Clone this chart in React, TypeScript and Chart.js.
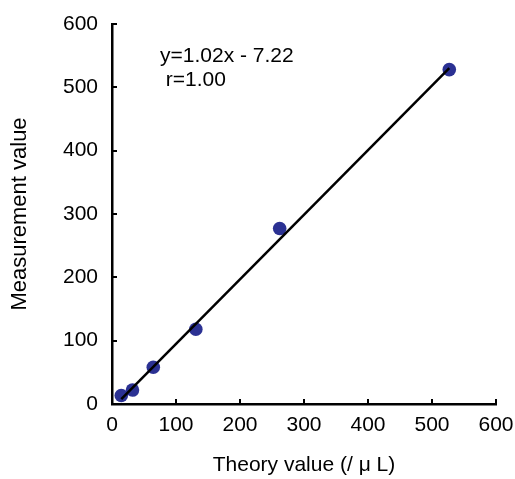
import React, { useEffect, useRef } from "react";
import { Chart, registerables } from "chart.js";

Chart.register(...registerables);

const theoryValues = [14.5, 32, 64.5, 131, 262, 527];
const measuredValues = [13.5, 22, 58, 118, 277, 528];
const fitSlope = 1.02;
const fitIntercept = -7.22;
const annotationLines = ["y=1.02x - 7.22", " r=1.00"];
const xTitle = "Theory value (/ μ L)";
const yTitle = "Measurement value";
const axisMin = 0;
const axisMax = 600;
const axisStep = 100;

const FONT = "'Liberation Sans', Arial, sans-serif";

export default function App() {
  const ref = useRef<HTMLCanvasElement | null>(null);
  useEffect(() => {
    if (!ref.current) return;
    const xMin = Math.min(...theoryValues);
    const xMax = Math.max(...theoryValues);
    const fitData = [
      { x: xMin, y: fitSlope * xMin + fitIntercept },
      { x: xMax, y: fitSlope * xMax + fitIntercept },
    ];
    const points = theoryValues.map((x, i) => ({ x, y: measuredValues[i] }));

    const innerTicks = {
      id: "innerTicks",
      afterDraw(chart: any) {
        const ctx = chart.ctx;
        const xs = chart.scales.x;
        const ys = chart.scales.y;
        const area = chart.chartArea;
        ctx.save();
        ctx.strokeStyle = "#000";
        ctx.lineWidth = 2;
        ctx.beginPath();
        for (let v = axisMin; v <= axisMax; v += axisStep) {
          if (v === axisMin) continue;
          const px = Math.round(xs.getPixelForValue(v));
          ctx.moveTo(px, area.bottom + 1);
          ctx.lineTo(px, area.bottom - 5);
          const py = Math.round(ys.getPixelForValue(v));
          ctx.moveTo(area.left - 1, py);
          ctx.lineTo(area.left + 5, py);
        }
        ctx.stroke();
        ctx.fillStyle = "#000";
        ctx.font = `21px ${FONT}`;
        ctx.textAlign = "left";
        ctx.textBaseline = "middle";
        const ax = xs.getPixelForValue(75);
        const ay1 = ys.getPixelForValue(549);
        const ay2 = ys.getPixelForValue(511);
        ctx.fillText(annotationLines[0], ax, ay1);
        ctx.fillText(annotationLines[1], ax, ay2);
        ctx.restore();
      },
    };

    const chart = new Chart(ref.current, {
      type: "scatter",
      data: {
        datasets: [
          {
            type: "line",
            data: fitData,
            borderColor: "#000",
            borderWidth: 2.5,
            pointRadius: 0,
            fill: false,
          } as any,
          {
            data: points,
            backgroundColor: "#2B3193",
            borderColor: "#2B3193",
            pointRadius: 6.8,
            pointHoverRadius: 6.8,
            borderWidth: 0,
          },
        ],
      },
      options: {
        responsive: false,
        animation: false,
        layout: { padding: { top: 24, right: 19, left: 0, bottom: 0 } },
        plugins: {
          legend: { display: false },
          tooltip: { enabled: false },
        },
        scales: {
          x: {
            type: "linear",
            min: axisMin,
            max: axisMax,
            afterFit: (s: any) => {
              s.height = 75;
              s.paddingLeft = 0;
              s.paddingRight = 0;
            },
            ticks: {
              stepSize: axisStep,
              color: "#000",
              padding: 9,
              font: { family: FONT, size: 21 },
            },
            grid: { display: false, drawTicks: false },
            border: { display: true, color: "#000", width: 2.5 },
            title: {
              display: true,
              text: xTitle,
              color: "#000",
              font: { family: FONT, size: 21 },
              padding: { top: 0, bottom: 1 },
            },
          },
          y: {
            type: "linear",
            min: axisMin,
            max: axisMax,
            afterFit: (s: any) => {
              s.width = 112;
              s.paddingTop = 0;
              s.paddingBottom = 0;
            },
            ticks: {
              stepSize: axisStep,
              color: "#000",
              padding: 14,
              font: { family: FONT, size: 21 },
            },
            grid: { display: false, drawTicks: false },
            border: { display: true, color: "#000", width: 2.5 },
            title: {
              display: true,
              text: yTitle,
              color: "#000",
              font: { family: FONT, size: 22 },
              padding: { top: 7, bottom: 0 },
            },
          },
        },
      },
      plugins: [innerTicks],
    });
    return () => chart.destroy();
  }, []);
  return (
    <div style={{ position: "absolute", left: 0, top: 0, width: 515, height: 479, background: "#fff" }}>
      <canvas ref={ref} width={515} height={479} style={{ width: 515, height: 479 }} />
    </div>
  );
}
